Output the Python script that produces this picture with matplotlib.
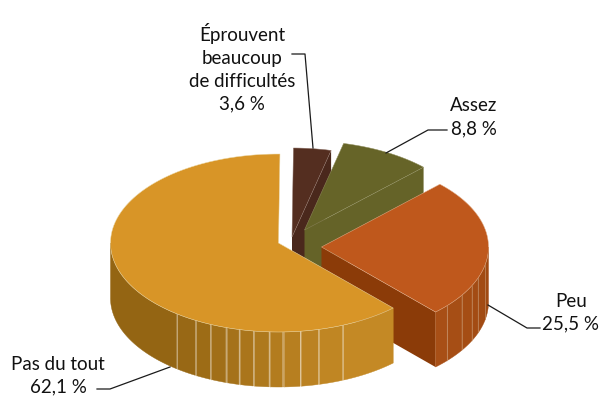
import matplotlib
matplotlib.use("Agg")
import matplotlib.pyplot as plt
import numpy as np
from matplotlib.patches import Polygon

labels = ["Pas du tout\n62,1 %", "Peu\n25,5 %", "Assez\n8,8 %", "Éprouvent\nbeaucoup\nde difficultés\n3,6 %"]
values = [62.1, 25.5, 8.8, 3.6]
colors = ["#d89527", "#bf581c", "#666428", "#542e20"]
inner_colors = [None, "#8b3b08", "#656328", "#4a281c"]
wall_start = ["#946513", "#a84f16", None, None]
wall_end = ["#c48925", "#a04a12", None, None]

# exploded vertex of each slice, pixel coords
centers = [(278.5, 243), (321.5, 247), (304.5, 230), (292, 237)]
rx = [168, 167, 168, 168]
ry = 89
depth = 55
start_angle = 89.5

# top face outline of each slice, faint on the dark ones
edges = ["#ecd9a8", "#e2b08c", "#8f8d5c", "#8c6f64"]
wall_edge = "#e8d9c0"

# x of the thin lines on the side walls
wall_lines = [
    [177, 196, 211, 226, 239, 254, 269, 283, 301, 319, 343],
    [447, 462, 472, 478, 485],
]

plt.rcParams["font.family"] = ["Lato", "DejaVu Sans"]

fig = plt.figure(figsize=(6.03, 4.0), dpi=100)
ax = fig.add_axes([0, 0, 1, 1])
ax.set_xlim(0, 603)
ax.set_ylim(400, 0)
ax.axis("off")


def arc(i, a0, a1, n=120):
    t = np.radians(np.linspace(a0, a1, n))
    cx, cy = centers[i]
    return np.column_stack([cx + rx[i] * np.cos(t), cy - ry * np.sin(t)])


def draw_slice(i, a0, a1):
    cx, cy = centers[i]
    top = arc(i, a0, a1)

    # inner cut wall facing the viewer
    if inner_colors[i] is not None:
        corner = top[0]
        wall = [(cx, cy), corner, corner + [0, depth], (cx, cy + depth)]
        ax.add_patch(Polygon(wall, fc=inner_colors[i], ec="none", zorder=i_z[i]))

    # outer wall, only the front half of the ellipse shows
    if wall_start[i] is not None:
        lo = max(a0, 180)
        hi = min(a1, 360)
        outer = arc(i, lo, hi, 400)
        steps = [outer[0, 0]] + wall_lines[i] + [outer[-1, 0]]
        c0 = np.array(matplotlib.colors.to_rgb(wall_start[i]))
        c1 = np.array(matplotlib.colors.to_rgb(wall_end[i]))
        for k in range(len(steps) - 1):
            m = (outer[:, 0] >= steps[k]) & (outer[:, 0] <= steps[k + 1])
            seg = outer[m]
            if len(seg) < 2:
                continue
            col = c0 + (c1 - c0) * k / (len(steps) - 2)
            poly = np.vstack([seg, (seg + [0, depth])[::-1]])
            ax.add_patch(Polygon(poly, fc=col, ec=col, lw=0.3, zorder=i_z[i]))
            if k > 0:
                ax.plot([seg[0, 0]] * 2, [seg[0, 1], seg[0, 1] + depth],
                        color=wall_edge, lw=0.5, alpha=0.45, zorder=i_z[i] + 0.1)

    # top face
    face = np.vstack([[(cx, cy)], top])
    ax.add_patch(Polygon(face, fc=colors[i], ec=edges[i], lw=0.35, zorder=i_z[i] + 0.2))


# drawing order: back slices first, the big one last
i_z = {3: 1, 2: 2, 1: 3, 0: 4}
angles = start_angle + np.cumsum([0] + [v * 3.6 for v in values])
for i in [3, 2, 1, 0]:
    draw_slice(i, angles[i], angles[i + 1])

# leader lines
leaders = [
    [(97, 389), (110, 389), (170, 367)],
    [(488, 305), (527, 328), (540, 328)],
    [(386, 153), (428, 130), (447, 130)],
    [(292, 54), (305, 54), (313, 148)],
]
for pts in leaders:
    xs, ys = zip(*pts)
    ax.plot(xs, ys, color="#1a1a1a", lw=0.9, zorder=6)

text_pos = [(58, 375.5), (571, 312.5), (474, 117), (242, 68)]
for lab, (x, y) in zip(labels, text_pos):
    ax.text(x, y, lab, ha="center", va="center", fontsize=13.5, linespacing=1.42,
            color="#111111", zorder=7)

fig.savefig("out.png", dpi=100)
